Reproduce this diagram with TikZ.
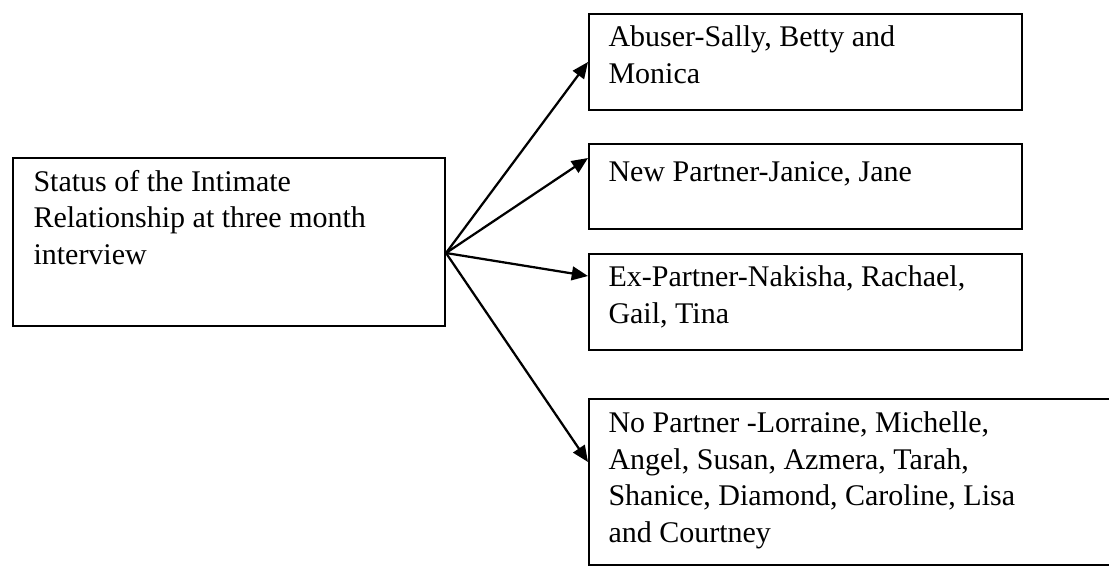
\documentclass[tikz,border=0pt]{standalone}
\usepackage{fontspec}
\setmainfont{Liberation Serif}
\usetikzlibrary{arrows.meta}
\tikzset{
  caixa/.style={draw, line width=0.8pt, anchor=north west, inner sep=0pt, minimum width=173.2pt},
  texto/.style={anchor=north west, inner sep=0pt, align=left, font=\fontsize{12}{14.7}\selectfont, execute at begin node=\strut},
  seta/.style={line width=0.9pt, -{Triangle[length=6.5pt,width=5.5pt]}}
}
\begin{document}
\begin{tikzpicture}[x=1pt,y=1pt]
        \useasboundingbox (0,0) rectangle (443.6,-226);

        % Caixas
        \node[caixa, minimum width=172.8pt, minimum height=67.2pt] (status) at (4.8,-62.8) {};
        \node[caixa, minimum height=38.4pt] (abuser) at (235.2,-5.2) {};
        \node[caixa, minimum height=34pt] (newp) at (235.2,-57.2) {};
        \node[caixa, minimum height=38.4pt] (exp) at (235.2,-101.2) {};
        \node[caixa, minimum width=230pt, minimum height=66.4pt] (nop) at (235.2,-159.2) {};

        % Textos
        \node[texto] (status-t) at ([shift={(8.4pt,-5pt)}]status.north west) {Status of the Intimate\\Relationship at three month\\interview};
        \node[texto] (abuser-t) at ([shift={(8pt,-5pt)}]abuser.north west) {Abuser-Sally, Betty and\\Monica};
        \node[texto] (newp-t) at ([shift={(8pt,-5pt)}]newp.north west) {New Partner-Janice, Jane};
        \node[texto] (exp-t) at ([shift={(8pt,-5pt)}]exp.north west) {Ex-Partner-Nakisha, Rachael,\\Gail, Tina};
        \node[texto] (nop-t) at ([shift={(8pt,-5.2pt)}]nop.north west) {No Partner -Lorraine, Michelle,\\Angel, Susan, Azmera, Tarah,\\Shanice, Diamond, Caroline, Lisa\\and Courtney};

        % Setas
        \coordinate (hub) at ([yshift=-4.4pt]status.east);
        \draw[seta] (hub) -- (abuser.west);
        \draw[seta] (hub) -- ([yshift=-6pt]newp.north west);
        \draw[seta] (hub) -- ([yshift=-9.2pt]exp.north west);
        \draw[seta] (hub) -- ([yshift=-25.6pt]nop.north west);
\end{tikzpicture}
\end{document}
